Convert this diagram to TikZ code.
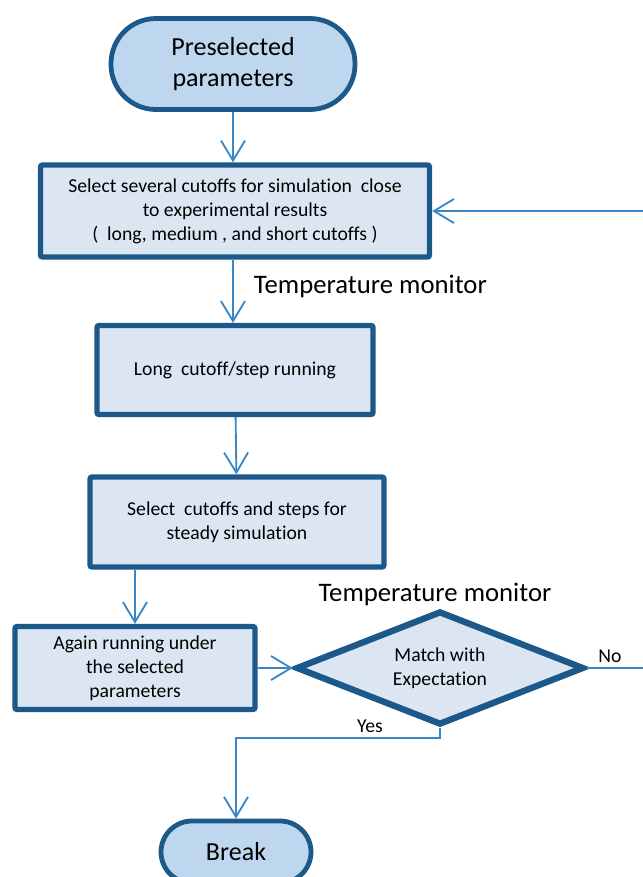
\documentclass[tikz,border=0pt]{standalone}
\usepackage{fontspec}
\setmainfont{Carlito}[Ligatures=NoCommon]
\usetikzlibrary{shapes.geometric,arrows.meta}
\definecolor{boxline}{RGB}{28,88,138}
\definecolor{boxfill}{RGB}{220,230,242}
\definecolor{termfill}{RGB}{190,215,238}
\definecolor{arrowblue}{RGB}{58,135,199}
\newcommand\px{0.025cm}

\begin{document}
\begin{tikzpicture}[x=0.025cm,y=-0.025cm,
    term/.style={draw=boxline,fill=termfill,line width=3.4pt,align=center,
      font=\fontsize{18.5}{22}\selectfont,inner sep=0pt},
    stepbox/.style={draw=boxline,fill=boxfill,line width=3.8pt,rounded corners=1.5pt,
      align=center,font=\fontsize{14}{17}\selectfont,inner sep=0pt},
    decision/.style={diamond,aspect=2.4,draw=boxline,fill=boxfill,line width=4.5pt,
      inner sep=0pt,align=center,font=\fontsize{14}{17}\selectfont},
    flow/.style={draw=arrowblue,line width=1.3pt,-{Straight Barb[length=0.5cm,width=0.6cm]}},
    lbl/.style={font=\fontsize{14}{17}\selectfont},
    mon/.style={font=\fontsize{19}{22}\selectfont}]

    \useasboundingbox (0,0) rectangle (643,877);

    \node[term,minimum width=244*\px,minimum height=91*\px,rounded corners=45*\px] (pre) at (233,64) {Preselected\\parameters};
    \node[stepbox,minimum width=389*\px,minimum height=92*\px] (box1) at (235,211)
        {Select several cutoffs for simulation\ \ close\\to experimental results\\(\ \ long, medium , and short cutoffs )};
    \node[stepbox,minimum width=276*\px,minimum height=89*\px] (box2) at (235,370) {Long\ \ cutoff/step running};
    \node[stepbox,minimum width=294*\px,minimum height=90*\px] (box3) at (237,522) {Select\ \ cutoffs and steps for\\steady simulation};
    \node[stepbox,minimum width=240*\px,minimum height=83*\px] (box4) at (135,668) {Again running under\\the selected\\parameters};
    \node[decision,minimum width=288*\px,minimum height=114*\px] (dia) at (440,668) {Match with\\Expectation};
    \node[term,minimum width=150*\px,minimum height=62*\px,rounded corners=31*\px] (brk) at (236,852) {Break};

    \node[mon,anchor=west] (mon1) at (249,286) {Temperature monitor};
    \node[mon] (mon2) at (435,594) {Temperature monitor};
    \node[lbl] (no) at (610,656) {No};
    \node[lbl] (yes) at (370,726) {Yes};
    \coordinate (back) at (646,668);

    \draw[flow] (pre) -- (pre |- box1.north);
    \draw[flow] (box1.south -| pre) -- (box2.north -| pre);
    \draw[flow] (box2) -- (box3);
    \draw[flow] (box3.south -| box4.north) -- (box4.north);
    \draw[flow] (box4) -- (dia);
    \draw[flow] (dia.east) -- (back) |- (box1.east);
    \draw[flow] (dia.south) -- ++(0,10) -| (brk.north);
\end{tikzpicture}
\end{document}
